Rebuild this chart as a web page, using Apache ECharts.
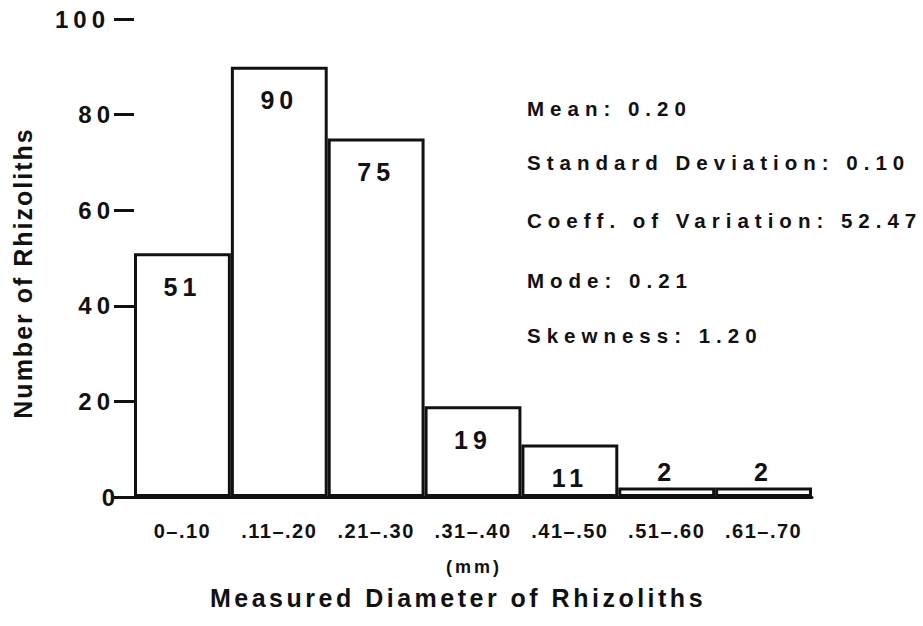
<!DOCTYPE html>
<html>
<head>
<meta charset="utf-8">
<script src="https://cdn.jsdelivr.net/npm/echarts@6/dist/echarts.min.js"></script>
<style>
  html, body { margin: 0; padding: 0; background: #fff; }
  #chart { width: 923px; height: 626px; }
</style>
</head>
<body>
<div id="chart"></div>
<script>
// ---- data ----
const categories = ['0–.10', '.11–.20', '.21–.30', '.31–.40', '.41–.50', '.51–.60', '.61–.70'];
const counts = [51, 90, 75, 19, 11, 2, 2];
const yTickLabels = [0, 20, 40, 60, 80, 100];
const unitLabel = '(mm)';
const xTitle = 'Measured Diameter of Rhizoliths';
const yTitle = 'Number of Rhizoliths';
const statsLines = [
  'Mean: 0.20',
  'Standard Deviation: 0.10',
  'Coeff. of Variation: 52.47',
  'Mode: 0.21',
  'Skewness: 1.20'
];

const INK = '#111';
const FONT = '"Liberation Sans", Arial, Helvetica, sans-serif';

const dom = document.getElementById('chart');
const chart = echarts.init(dom, null, { renderer: 'svg', width: 923, height: 626 });

const statsY = [108, 162, 220, 280, 335];

const option = {
  animation: false,
  backgroundColor: '#fff',
  grid: { left: 134, right: 111, top: 19, bottom: 129, containLabel: false, outerBoundsMode: 'none' },
  xAxis: {
    type: 'category',
    data: categories,
    boundaryGap: true,
    name: xTitle,
    nameLocation: 'middle',
    nameGap: 88,
    nameTextStyle: { fontFamily: FONT, fontSize: 25, fontWeight: 'bold', color: INK, padding: [0, 30, 0, 0] },
    axisLine: { show: true, lineStyle: { color: INK, width: 3 } },
    axisTick: { show: false },
    axisLabel: { interval: 0, margin: 24, fontFamily: FONT, fontSize: 20, fontWeight: 'bold', color: INK },
    splitLine: { show: false }
  },
  yAxis: {
    type: 'value',
    min: yTickLabels[0],
    max: yTickLabels[yTickLabels.length - 1],
    interval: yTickLabels[1] - yTickLabels[0],
    name: yTitle,
    nameLocation: 'middle',
    nameGap: 99,
    nameTextStyle: { fontFamily: FONT, fontSize: 25, fontWeight: 'bold', color: INK, padding: [0, 30, 0, 0] },
    axisLine: { show: false },
    axisTick: { show: true, inside: false, length: 20, lineStyle: { color: INK, width: 3 } },
    axisLabel: { margin: 9, fontFamily: FONT, fontSize: 24, fontWeight: 'bold', color: INK },
    splitLine: { show: false }
  },
  series: [{
    type: 'bar',
    barWidth: '100%',
    barCategoryGap: '0%',
    data: counts.map(v => v < 5 ? { value: v, label: { position: 'top', distance: 3 } } : v),
    itemStyle: { color: '#fff', borderColor: INK, borderWidth: 3 },
    label: {
      show: true,
      position: 'insideTop',
      distance: 21,
      fontFamily: FONT,
      fontSize: 25,
      fontWeight: 'bold',
      color: INK
    },
    emphasis: { disabled: true }
  }],
  graphic: [
    {
      type: 'text',
      x: 474, y: 567,
      style: { text: unitLabel, x: 0, y: 0, align: 'center', verticalAlign: 'middle',
               font: 'bold 18px ' + FONT, fill: INK }
    }
  ].concat(statsLines.map((s, i) => ({
    type: 'text',
    x: 527, y: statsY[i],
    style: { text: s, x: 0, y: 0, align: 'left', verticalAlign: 'middle',
             font: 'bold 20.5px ' + FONT, fill: INK }
  })))
};

chart.setOption(option);

// letter spacing (the reference typesetting is widely tracked);
// k = share of the added width to shift back (right-aligned tick labels only)
const spacing = new Map();
statsLines.forEach(s => spacing.set(s, { ls: 6, k: 0 }));
counts.forEach(v => spacing.set(String(v), { ls: 5, k: 0 }));
yTickLabels.forEach(v => spacing.set(String(v), { ls: 5, k: 1 }));
categories.forEach(c => spacing.set(c, { ls: 1.5, k: 0 }));
spacing.set(unitLabel, { ls: 3, k: 0 });
spacing.set(xTitle, { ls: 3.5, k: 0 });
spacing.set(yTitle, { ls: 2, k: 0 });

function applySpacing() {
  dom.querySelectorAll('text').forEach(t => {
    if (t.dataset.ls) return;
    const cfg = spacing.get(t.textContent.trim());
    if (!cfg) return;
    const w0 = t.getComputedTextLength();
    t.style.letterSpacing = cfg.ls + 'px';
    const w1 = t.getComputedTextLength();
    const shift = (w1 - w0) * cfg.k;
    if (shift) {
      const target = t.hasAttribute('x') ? t : (t.querySelector('tspan[x]') || t);
      const x = parseFloat(target.getAttribute('x') || '0');
      target.setAttribute('x', x - shift);
    }
    t.dataset.ls = '1';
  });
}
applySpacing();
chart.on('finished', applySpacing);
setTimeout(applySpacing, 50);
</script>
</body>
</html>
